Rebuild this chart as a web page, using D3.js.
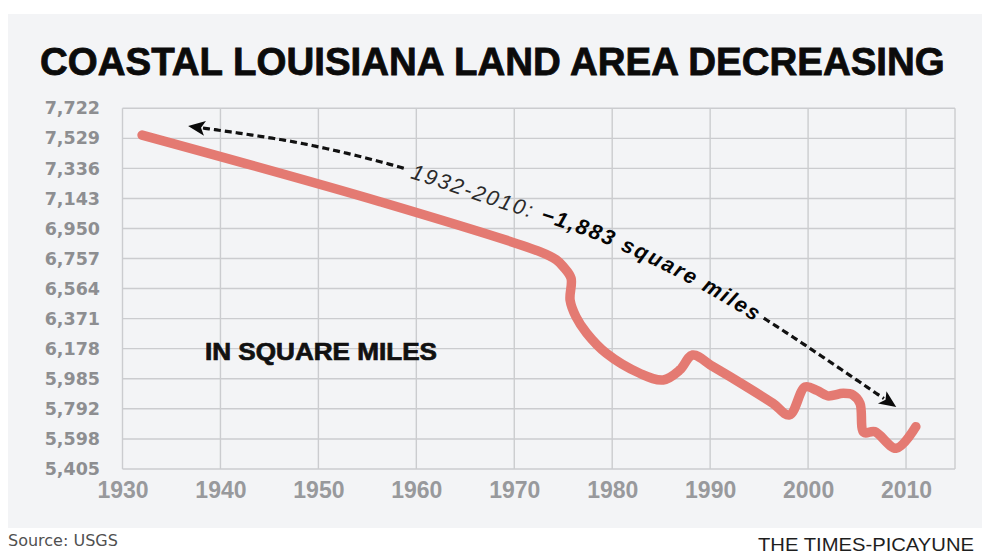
<!DOCTYPE html>
<html>
<head>
<meta charset="utf-8">
<script src="https://cdn.jsdelivr.net/npm/d3@7"></script>
<style>
  html, body { margin: 0; padding: 0; background: #ffffff; }
  svg { display: block; }
</style>
</head>
<body>
<svg id="chart" width="982" height="554"></svg>
<script>
// ---- Data ----
const years  = [1932, 1956.3, 1972.6, 1974.3, 1975.0, 1975.8, 1975.7, 1976.3, 1977.4, 1979.4, 1982.8, 1985.2, 1986.9, 1988.2, 1990.3, 1993.7, 1996.4, 1998.1, 1999.7, 2000.9, 2002.0, 2003.6, 2004.6, 2005.3, 2005.7, 2006.8, 2009.0, 2011.0];
const values = [7550, 7122, 6801, 6748, 6705, 6630, 6490, 6383, 6277, 6148, 6020, 5977, 6041, 6137, 6062, 5934, 5827, 5752, 5932, 5910, 5875, 5891, 5880, 5827, 5640, 5645, 5538, 5677];

const yTicks = [5405, 5598, 5792, 5985, 6178, 6371, 6564, 6757, 6950, 7143, 7336, 7529, 7722];
const xTicks = [1930, 1940, 1950, 1960, 1970, 1980, 1990, 2000, 2010];
const xDomain = [1930, 2015];

// annotation arrow guide points (in data space)
const annoYears  = [1936.7, 1948.1, 1958.6, 1968.5, 1978.7, 1988.9, 1996.1, 2009.0];
const annoValues = [7608, 7499, 7339, 7133, 6921, 6619, 6349, 5803];

const titleText = "COASTAL LOUISIANA LAND AREA DECREASING";
const unitText = "IN SQUARE MILES";
const annoLight = "1932-2010: ";
const annoBold = "\u22121,883 square miles";
const sourceText = "Source: USGS";
const creditText = "THE TIMES-PICAYUNE";

// ---- Layout ----
const W = 982, H = 554;
const svg = d3.select("#chart");

const x = d3.scaleLinear().domain(xDomain).range([122.5, 955]);
const y = d3.scaleLinear().domain([yTicks[0], yTicks[yTicks.length - 1]]).range([469, 108.3]);

// background panel
svg.append("rect").attr("x", 0).attr("y", 0).attr("width", W).attr("height", H).attr("fill", "#ffffff");
svg.append("rect").attr("x", 8).attr("y", 14).attr("width", W - 8).attr("height", 514).attr("fill", "#f3f4f6");

// title
const title = svg.append("text")
  .attr("x", 40).attr("y", 75)
  .style("font-family", "'Liberation Sans Narrow', 'Liberation Sans', Arial, sans-serif")
  .style("font-weight", "bold").style("font-size", "46.5px")
  .attr("fill", "#0b0b0b").attr("stroke", "#0b0b0b").attr("stroke-width", 0.8)
  .text(titleText);
// shrink font if it would not fit the available width
(function fitTitle() {
  const avail = 905;
  const w = title.node().getComputedTextLength();
  if (w > avail) title.style("font-size", (46.5 * avail / w).toFixed(2) + "px");
})();

// gridlines
const grid = svg.append("g").attr("stroke", "#cbcccf").attr("stroke-width", 1.4);
grid.selectAll("line.h").data(yTicks).join("line")
  .attr("x1", x(xDomain[0])).attr("x2", x(xDomain[1]))
  .attr("y1", d => y(d)).attr("y2", d => y(d));
grid.selectAll("line.v").data(xTicks.concat([xDomain[1]])).join("line")
  .attr("x1", d => x(d)).attr("x2", d => x(d))
  .attr("y1", y(yTicks[0])).attr("y2", y(yTicks[yTicks.length - 1]));

// y axis labels (via d3 axis)
const yAxis = d3.axisLeft(y).tickValues(yTicks).tickFormat(d3.format(",")).tickSize(0).tickPadding(0);
const gy = svg.append("g").attr("transform", "translate(100,0)").call(yAxis);
gy.select(".domain").remove();
gy.selectAll("text")
  .style("font-family", "'DejaVu Sans', Verdana, sans-serif")
  .style("font-weight", "bold").style("font-size", "17.5px")
  .attr("fill", "#8d8e91");

// x axis labels
const xAxis = d3.axisBottom(x).tickValues(xTicks).tickFormat(d3.format("d")).tickSize(0).tickPadding(0);
const gx = svg.append("g").attr("transform", "translate(0,482)").call(xAxis);
gx.select(".domain").remove();
gx.selectAll("text")
  .attr("dy", "0.71em")
  .style("font-family", "'Liberation Sans Narrow', 'Liberation Sans', Arial, sans-serif")
  .style("font-weight", "bold").style("font-size", "23px")
  .attr("fill", "#98999c");

// unit label
svg.append("text")
  .attr("x", 205).attr("y", 360)
  .attr("textLength", 232).attr("lengthAdjust", "spacingAndGlyphs")
  .style("font-family", "'Liberation Sans', Arial, sans-serif")
  .style("font-weight", "bold").style("font-size", "23px")
  .attr("fill", "#111").attr("stroke", "#111").attr("stroke-width", 0.7)
  .text(unitText);

// data line
const data = years.map((yr, i) => ({ year: yr, value: values[i] }));
const line = d3.line()
  .x(d => x(d.year)).y(d => y(d.value))
  .curve(d3.curveCatmullRom.alpha(0.5));
svg.append("path")
  .datum(data)
  .attr("d", line)
  .attr("fill", "none")
  .attr("stroke", "#e47a72")
  .attr("stroke-width", 9.5)
  .attr("stroke-linecap", "round")
  .attr("stroke-linejoin", "round");

// ---- annotation arrow with text on path ----
const anno = annoYears.map((yr, i) => [x(yr), y(annoValues[i])]);
const annoLine = d3.line().curve(d3.curveCatmullRom.alpha(0.5));
const defs = svg.append("defs");
const guide = defs.append("path").attr("id", "annoPath").attr("d", annoLine(anno));
const gnode = guide.node();
const total = gnode.getTotalLength();

function lengthAtX(targetX) {
  let lo = 0, hi = total;
  for (let i = 0; i < 40; i++) {
    const mid = (lo + hi) / 2;
    if (gnode.getPointAtLength(mid).x < targetX) lo = mid; else hi = mid;
  }
  return (lo + hi) / 2;
}

const textStart = lengthAtX(412);
const annoText = svg.append("text")
  .style("font-family", "'Liberation Sans', Arial, sans-serif")
  .style("font-size", "21.5px")
  .style("font-style", "italic")
  .style("letter-spacing", "2px");
const tp = annoText.append("textPath")
  .attr("href", "#annoPath")
  .attr("startOffset", textStart);
tp.append("tspan").attr("dy", "0.36em").attr("fill", "#2a2a2a").text(annoLight);
tp.append("tspan").attr("fill", "#050505").style("font-weight", "bold").text(annoBold);
const textLen = annoText.node().getComputedTextLength();
const textEnd = textStart + textLen;

function subPath(l0, l1) {
  const pts = [];
  const n = Math.max(2, Math.ceil((l1 - l0) / 2));
  for (let i = 0; i <= n; i++) {
    const p = gnode.getPointAtLength(l0 + (l1 - l0) * i / n);
    pts.push([p.x, p.y]);
  }
  return d3.line()(pts);
}

const headLen = 17, headHalf = 7.5;
const dashStyle = sel => sel.attr("fill", "none").attr("stroke", "#111")
  .attr("stroke-width", 3.2).attr("stroke-dasharray", "7,4");

svg.append("path").attr("d", subPath(headLen - 2, textStart - 6)).call(dashStyle);
svg.append("path").attr("d", subPath(textEnd + 4, total - headLen + 2)).call(dashStyle);

function arrowHead(tipLen, backLen) {
  const tip = gnode.getPointAtLength(tipLen);
  const back = gnode.getPointAtLength(backLen);
  const dx = tip.x - back.x, dy = tip.y - back.y;
  const len = Math.hypot(dx, dy);
  const ux = dx / len, uy = dy / len;
  const bx = tip.x - ux * headLen, by = tip.y - uy * headLen;
  const pts = [
    [tip.x, tip.y],
    [bx - uy * headHalf, by + ux * headHalf],
    [bx + ux * 4, by + uy * 4],
    [bx + uy * headHalf, by - ux * headHalf]
  ];
  svg.append("path").attr("d", d3.line()(pts) + "Z").attr("fill", "#0a0a0a");
}
arrowHead(0, headLen);
arrowHead(total, total - headLen);

// ---- footer ----
svg.append("text")
  .attr("x", 8).attr("y", 546)
  .style("font-family", "'DejaVu Sans', Verdana, sans-serif")
  .style("font-size", "16px")
  .attr("fill", "#505050")
  .text(sourceText);

svg.append("text")
  .attr("x", 758).attr("y", 551)
  .attr("textLength", 216).attr("lengthAdjust", "spacingAndGlyphs")
  .style("font-family", "'Liberation Sans Narrow', 'Liberation Sans', Arial, sans-serif")
  .style("font-size", "19px")
  .attr("fill", "#1e1e1e")
  .text(creditText);
</script>
</body>
</html>
